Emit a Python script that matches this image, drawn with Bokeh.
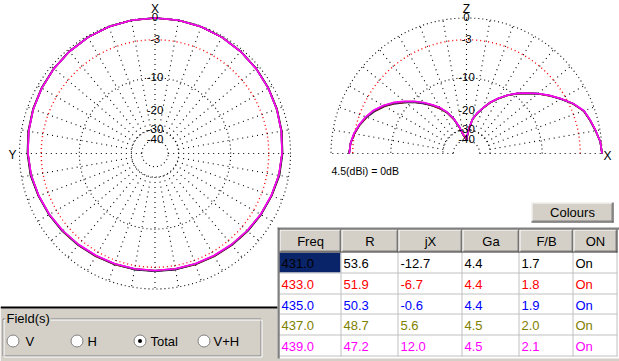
import numpy as np
from bokeh.plotting import figure
from bokeh.models import Range1d
from bokeh.core.properties import value
from bokeh.embed import file_html
from bokeh.resources import INLINE

# ---------------- table data ----------------
freq = ["431.0", "433.0", "435.0", "437.0", "439.0"]
res_r = ["53.6", "51.9", "50.3", "48.7", "47.2"]
jx = ["-12.7", "-6.7", "-0.6", "5.6", "12.0"]
ga = ["4.4", "4.4", "4.4", "4.5", "4.5"]
fb = ["1.7", "1.8", "1.9", "2.0", "2.1"]
on = ["On", "On", "On", "On", "On"]
headers = ["Freq", "R", "jX", "Ga", "F/B", "ON"]
row_colors = ["#000000", "#FF0000", "#0000FF", "#808000", "#FF00FF"]

# ---------------- polar grid ----------------
ring_db = [0, -3, -10, -30, -40]
tick_db = [0, -3, -10, -20, -30, -40]
tick_labels = ["0", "-3", "-10", "-20", "-30", "-40"]
ref_note = "4.5(dBi) = 0dB"
field_options = ["V", "H", "Total", "V+H"]
field_selected = "Total"

# ---------------- horizontal pattern (dB vs angle from X, symmetric) ----------------
az_deg = [0, 10, 20, 30, 40, 50, 60, 70, 80, 90, 100, 110, 120, 130, 140, 150, 160, 170, 180]
az_431 = [0.00, -0.02, -0.07, -0.16, -0.28, -0.42, -0.57, -0.72, -0.88, -1.03, -1.19, -1.50, -1.74, -1.95, -2.13, -2.27, -2.35, -2.39, -2.40]
az_433 = [0.00, -0.02, -0.08, -0.18, -0.30, -0.45, -0.60, -0.76, -0.93, -1.10, -1.26, -1.54, -1.77, -1.99, -2.17, -2.31, -2.39, -2.43, -2.44]
az_435 = [0.00, -0.02, -0.08, -0.18, -0.30, -0.45, -0.61, -0.77, -0.94, -1.10, -1.27, -1.55, -1.79, -2.01, -2.20, -2.34, -2.42, -2.46, -2.47]
az_437 = [0.00, -0.02, -0.08, -0.18, -0.30, -0.45, -0.61, -0.77, -0.94, -1.11, -1.28, -1.57, -1.81, -2.04, -2.23, -2.37, -2.45, -2.49, -2.50]
az_439 = [0.00, -0.02, -0.08, -0.18, -0.30, -0.45, -0.61, -0.77, -0.94, -1.11, -1.29, -1.58, -1.82, -2.06, -2.26, -2.40, -2.48, -2.52, -2.53]

# ---------------- vertical pattern (dB vs elevation from X towards Z) ----------------
el_deg = [0, 5, 10, 15, 20, 25, 30, 35, 40, 45, 50, 55, 60, 65, 70, 75, 80, 85, 90,
          95, 100, 105, 110, 115, 120, 125, 130, 135, 140, 145, 150, 155, 160, 165, 170, 175, 180]
el_431 = [0.0, -0.16, -0.58, -1.00, -1.45, -2.45, -3.75, -5.08, -6.48, -8.00, -9.47, -11.14, -13.05, -15.11, -17.66, -20.28, -23.33, -29.5, -39.5,
          -36.6, -33.8, -27.9, -22.8, -19.2, -16.6, -14.6, -12.6, -10.8, -9.2, -7.6, -6.2, -5.1, -4.2, -3.5, -3.0, -2.6, -2.45]
el_433 = [0.0, -0.15, -0.57, -0.98, -1.43, -2.43, -3.72, -5.05, -6.45, -7.97, -9.44, -11.11, -13.02, -15.08, -17.63, -20.25, -23.30, -29.5, -39.3,
          -36.5, -33.7, -27.8, -22.7, -19.1, -16.5, -14.5, -12.5, -10.7, -9.1, -7.5, -6.1, -5.0, -4.15, -3.48, -2.98, -2.62, -2.46]
el_435 = [0.0, -0.15, -0.56, -0.96, -1.41, -2.40, -3.70, -5.02, -6.42, -7.94, -9.41, -11.08, -12.99, -15.05, -17.60, -20.22, -23.27, -29.4, -39.2,
          -36.3, -33.5, -27.6, -22.5, -18.9, -16.3, -14.3, -12.4, -10.6, -9.0, -7.4, -6.0, -4.95, -4.10, -3.45, -2.95, -2.61, -2.48]
el_437 = [0.0, -0.14, -0.55, -0.95, -1.40, -2.38, -3.68, -5.00, -6.40, -7.92, -9.39, -11.06, -12.97, -15.03, -17.58, -20.20, -23.25, -29.4, -39.0,
          -36.2, -33.4, -27.5, -22.4, -18.8, -16.2, -14.2, -12.3, -10.5, -8.9, -7.3, -5.95, -4.88, -4.05, -3.42, -2.92, -2.60, -2.49]
el_439 = [0.0, -0.14, -0.54, -0.94, -1.38, -2.37, -3.66, -4.99, -6.39, -7.90, -9.37, -11.04, -12.95, -15.01, -17.56, -20.18, -23.23, -29.35, -38.9,
          -36.1, -33.3, -27.4, -22.3, -18.7, -16.1, -14.1, -12.2, -10.4, -8.8, -7.2, -5.9, -4.8, -4.0, -3.4, -2.9, -2.6, -2.5]

az_series = [az_431, az_433, az_435, az_437, az_439]
el_series = [el_431, el_433, el_435, el_437, el_439]

# ---------------- layout ----------------
LCX, LCY = 154.5, 153.0
RCX, RCY = 466.0, 153.0
R = 135.5
GRAY = "#D4D0C8"
PLOT_FONT = value("Liberation Sans")
UI_FONT = value("Liberation Sans")


def rad(db):
    # ARRL style log scale: 0.89 per 2 dB
    return R * 0.89 ** (-np.asarray(db, dtype=float) / 2.0)


p = figure(width=619, height=361, x_range=Range1d(0, 619), y_range=Range1d(361, 0),
           output_backend="svg", toolbar_location=None, min_border=0,
           x_axis_type=None, y_axis_type=None, outline_line_color=None,
           background_fill_color="white", border_fill_color="white")

# ---------- polar grids ----------
for cx, cy, full in [(LCX, LCY, True), (RCX, RCY, False)]:
    t = np.linspace(0, 2 * np.pi if full else np.pi, 720 if full else 360)
    for db in ring_db:
        r = float(rad(db))
        red = db == -3
        p.line(cx + r * np.cos(t), cy - r * np.sin(t), line_color="#FF0000" if red else "#000000",
               line_width=1.4 if red else 1.1, line_dash="1 3")
    angs = range(0, 360, 10) if full else range(0, 181, 10)
    xs, ys = [], []
    for a in angs:
        rin = float(rad(-40)) if a % 180 == 0 else float(rad(-30))
        th = np.radians(a)
        xs.append([cx + rin * np.cos(th), cx + R * np.cos(th)])
        ys.append([cy - rin * np.sin(th), cy - R * np.sin(th)])
    p.multi_line(xs, ys, line_color="#000000", line_width=1.1, line_dash="1 4")

# ---------- patterns ----------
d = np.asarray(az_deg, float)
full_d = np.concatenate([d, 360 - d[-2::-1]])
for vals, col in zip(az_series, row_colors):
    v = np.asarray(vals, float)
    full_v = np.concatenate([v, v[-2::-1]])
    r = rad(full_v)
    phi = np.radians(full_d)
    p.line(LCX - r * np.sin(phi), LCY - r * np.cos(phi), line_color=col, line_width=1.6, line_join="round")

e = np.radians(np.asarray(el_deg, float))
for vals, col in zip(el_series, row_colors):
    r = rad(vals)
    p.line(RCX + r * np.cos(e), RCY - r * np.sin(e), line_color=col, line_width=1.6, line_join="round")

# ---------- polar labels ----------
for cx, cy in [(LCX, LCY), (RCX, RCY)]:
    p.text(x=[cx] * len(tick_db), y=[cy - float(rad(db)) - 1 for db in tick_db], text=tick_labels,
           text_font=PLOT_FONT, text_font_size="11.5px", text_align="center", text_baseline="middle",
           text_color="#000000")

p.text(x=[LCX, 12, RCX, 607], y=[8.5, 154, 8.5, 155], text=["X", "Y", "Z", "X"],
       text_font=PLOT_FONT, text_font_size="12px", text_align="center", text_baseline="middle",
       text_color="#000000")
p.text(x=[331], y=[170], text=[ref_note], text_font=PLOT_FONT, text_font_size="10.5px",
       text_align="left", text_baseline="middle", text_color="#000000")

# ---------- lower left panel ----------
p.quad(left=0, right=279, top=308, bottom=361, fill_color=GRAY, line_color=None)
p.quad(left=0, right=278, top=306, bottom=308, fill_color="#000000", line_color=None)
# etched group box
p.multi_line([[2.5, 260.5, 260.5, 2.5, 2.5]], [[318.5, 318.5, 355.5, 355.5, 318.5]], line_color="#808080", line_width=1)
p.multi_line([[3.5, 261.5], [261.5, 261.5], [261.5, 3.5], [3.5, 3.5]],
             [[319.5, 319.5], [319.5, 356.5], [356.5, 356.5], [356.5, 319.5]], line_color="#FFFFFF", line_width=1)
p.quad(left=5, right=50, top=311, bottom=326, fill_color=GRAY, line_color=None)
p.text(x=[6], y=[318], text=["Field(s)"], text_font=UI_FONT, text_font_size="13px",
       text_align="left", text_baseline="middle", text_color="#000000")
rx = [12.5, 76.5, 139.5, 203.5]
p.scatter(x=rx, y=[340.5] * 4, size=12, marker="circle", fill_color="#FFFFFF", line_color="#808080", line_width=1)
sel = [rx[i] for i, o in enumerate(field_options) if o == field_selected]
p.scatter(x=sel, y=[340.5] * len(sel), size=4, marker="circle", fill_color="#000000", line_color=None)
p.text(x=[25, 87, 150, 213], y=[340.5] * 4, text=field_options, text_font=UI_FONT, text_font_size="13px",
       text_align="left", text_baseline="middle", text_color="#000000")

# ---------- Colours button ----------
p.quad(left=531, right=613, top=202, bottom=222, fill_color=GRAY, line_color=None)
p.multi_line([[531.5, 612], [531.5, 531.5], [612.5, 612.5], [531, 613], [611.5, 611.5], [532, 612]],
             [[202.5, 202.5], [202.5, 221], [202, 222], [221.5, 221.5], [203, 221], [220.5, 220.5]],
             line_color=["#FFFFFF", "#FFFFFF", "#404040", "#404040", "#808080", "#808080"], line_width=1)
p.text(x=[572], y=[212], text=["Colours"], text_font=UI_FONT, text_font_size="13px",
       text_align="center", text_baseline="middle", text_color="#000000")

# ---------- table ----------
col_x = [279, 341, 398, 462, 519, 573, 617]
row_y = [252, 273, 294, 314, 335, 356]
p.quad(left=277, right=619, top=227, bottom=358, fill_color="#FFFFFF", line_color=None)
p.quad(left=277, right=619, top=358, bottom=361, fill_color=GRAY, line_color=None)
# selected cell
p.quad(left=col_x[0], right=col_x[1] - 1, top=row_y[0], bottom=row_y[1] - 1, fill_color="#0A246A", line_color=None)
# grid lines
gx, gy = [], []
for x in col_x[1:]:
    gx.append([x - 0.5, x - 0.5]); gy.append([row_y[0], row_y[-1]])
for y in row_y[1:]:
    gx.append([col_x[0], col_x[-1]]); gy.append([y - 0.5, y - 0.5])
p.multi_line(gx, gy, line_color="#C0C0C0", line_width=1)
# header
for i in range(6):
    x0, x1 = col_x[i], col_x[i + 1]
    p.quad(left=x0, right=x1, top=229, bottom=252, fill_color=GRAY, line_color=None)
    p.multi_line([[x0 + 0.5, x1 - 1], [x0 + 0.5, x0 + 0.5], [x1 - 1.5, x1 - 1.5], [x0 + 1, x1 - 1], [x1 - 0.5, x1 - 0.5], [x0, x1]],
                 [[229.5, 229.5], [229.5, 251], [230, 251], [250.5, 250.5], [229, 252], [251.5, 251.5]],
                 line_color=["#FFFFFF", "#FFFFFF", "#808080", "#808080", "#404040", "#404040"], line_width=1)
p.text(x=[(col_x[i] + col_x[i + 1]) / 2 for i in range(6)], y=[241] * 6, text=headers,
       text_font=UI_FONT, text_font_size="13px", text_align="center", text_baseline="middle", text_color="#000000")
# outer border
p.multi_line([[277.5, 277.5], [277, 619], [278.5, 278.5], [278, 619]],
             [[227, 358], [227.5, 227.5], [228, 358], [228.5, 228.5]],
             line_color=["#808080", "#808080", "#404040", "#404040"], line_width=1)
# cells
columns = [freq, res_r, jx, ga, fb, on]
tx, ty, tt, tc = [], [], [], []
for ci, colvals in enumerate(columns):
    for ri, v in enumerate(colvals):
        tx.append(col_x[ci] + 2)
        ty.append((row_y[ri] + row_y[ri + 1]) / 2 + 0.5)
        tt.append(v)
        tc.append(row_colors[ri])
p.text(x=tx, y=ty, text=tt, text_color=tc, text_font=UI_FONT, text_font_size="13px",
       text_align="left", text_baseline="middle")

open("out.html", "w").write(file_html(p, INLINE))
